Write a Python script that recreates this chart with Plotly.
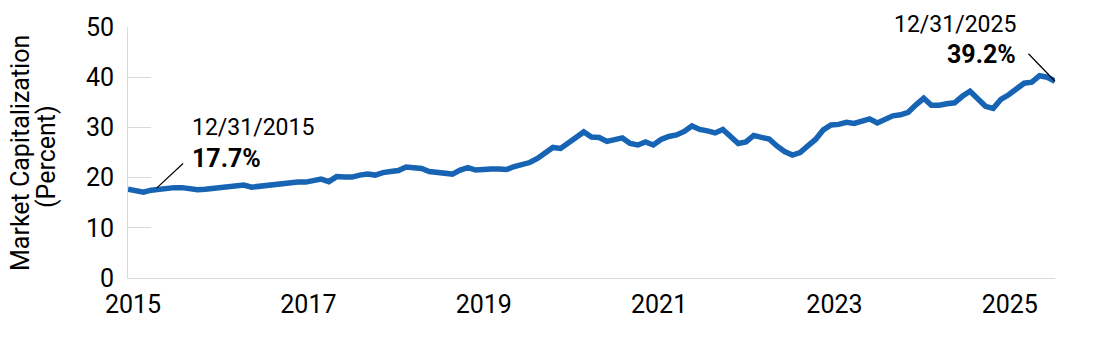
import plotly.graph_objects as go

# Monthly observations, 12/31/2015 .. 12/31/2025 (percent of market capitalization)
values = [
    17.7, 17.3, 17.1, 17.5, 17.7, 17.9, 18.0, 18.0, 17.8, 17.6,
    17.7, 17.9, 18.0, 18.1, 18.3, 18.5, 18.1, 18.3, 18.4, 18.5,
    18.8, 19.0, 19.1, 19.1, 19.3, 19.7, 19.2, 20.2, 20.1, 20.1,
    20.5, 20.7, 20.5, 21.0, 21.2, 21.4, 22.1, 22.0, 21.8, 21.2,
    21.1, 21.0, 20.7, 21.5, 22.0, 21.5, 21.7, 21.7, 21.7, 21.6,
    22.2, 22.6, 23.0, 23.8, 24.8, 26.0, 25.8, 26.8, 27.8, 29.1,
    28.1, 28.0, 27.2, 27.6, 27.9, 26.8, 26.5, 27.1, 26.5, 27.6,
    28.2, 28.5, 29.2, 30.3, 29.6, 29.3, 28.9, 29.6, 28.1, 26.8,
    27.1, 28.4, 28.0, 27.7, 26.3, 25.2, 24.5, 25.0, 26.3, 27.6,
    29.5, 30.5, 30.6, 31.0, 30.8, 31.3, 31.7, 30.9, 31.5, 32.3,
    32.5, 33.0, 34.5, 35.8, 34.4, 34.4, 34.7, 34.9, 36.2, 37.2,
    35.7, 34.2, 33.8, 35.6, 36.5, 37.7, 38.8, 39.0, 40.3, 40.0,
    39.2,
]
month_index = list(range(len(values)))
tick_labels = ["2015", "2017", "2019", "2021", "2023", "2025"]
y_ticks = [0, 10, 20, 30, 40, 50]
y_title_lines = ["Market Capitalization", "(Percent)"]
start_label, start_value = "12/31/2015", "17.7%"
end_label, end_value = "12/31/2025", "39.2%"

FONT = "Roboto, Arial, sans-serif"
LINE_COLOR = "#1764B4"
AXIS_COLOR = "#D9D9D9"

fig = go.Figure()
fig.add_trace(go.Scatter(
    x=month_index, y=values, mode="lines",
    line=dict(color=LINE_COLOR, width=5.5),
    hoverinfo="skip", showlegend=False,
))

tick_pos = [0.65 + 22.7 * k for k in range(len(tick_labels))]

fig.update_layout(
    width=1100, height=341,
    margin=dict(l=128, r=45, t=27, b=63),
    paper_bgcolor="white", plot_bgcolor="white",
    font=dict(family=FONT, color="#000000", size=24),
    xaxis=dict(
        range=[0, len(values) - 1],
        tickmode="array", tickvals=tick_pos, ticktext=tick_labels,
        showgrid=False, zeroline=False,
        showline=True, linecolor=AXIS_COLOR, linewidth=1,
        ticks="", tickfont=dict(size=25, family=FONT),
        ticklabelstandoff=4,
    ),
    yaxis=dict(
        range=[0, 50],
        tickmode="array", tickvals=y_ticks,
        showgrid=False, zeroline=False,
        showline=True, linecolor=AXIS_COLOR, linewidth=1,
        ticks="inside", ticklen=23, tickcolor=AXIS_COLOR, tickwidth=1,
        tickfont=dict(size=25, family=FONT),
        ticklabelstandoff=8,
    ),
)

# y-axis title lines as rotated annotations
title_x = [20, 46]
title_y = [153, 157]
for txt, px, py in zip(y_title_lines, title_x, title_y):
    fig.add_annotation(
        text=txt, textangle=-90,
        xref="paper", yref="paper", x=(px - 128) / 927, y=(278 - py) / 251,
        showarrow=False, font=dict(size=25, family=FONT),
        xanchor="center", yanchor="middle",
    )

# start annotation leader line
fig.add_annotation(
    x=month_index[0] + 3.7, y=values[0] + 0.2, xref="x", yref="y",
    ax=28, ay=-26,
    text="", showarrow=True, arrowhead=0, arrowwidth=1.2, arrowcolor="#000000",
)
fig.add_annotation(
    x=(190 - 128) / 927, y=(278 - 127) / 251, xref="paper", yref="paper",
    text=start_label, showarrow=False, xanchor="left", yanchor="middle",
    font=dict(size=23, family=FONT),
)
fig.add_annotation(
    x=(190 - 128) / 927, y=(278 - 158) / 251, xref="paper", yref="paper",
    text="<b>" + start_value + "</b>", showarrow=False, xanchor="left", yanchor="middle",
    font=dict(size=25, family=FONT),
)

# end annotation leader line
fig.add_annotation(
    x=month_index[-1], y=values[-1], xref="x", yref="y",
    ax=-28, ay=-29,
    text="", showarrow=True, arrowhead=0, arrowwidth=1.2, arrowcolor="#000000",
)
fig.add_annotation(
    x=(1018 - 128) / 927, y=(278 - 24) / 251, xref="paper", yref="paper",
    text=end_label, showarrow=False, xanchor="right", yanchor="middle",
    font=dict(size=23, family=FONT),
)
fig.add_annotation(
    x=(1018 - 128) / 927, y=(278 - 54) / 251, xref="paper", yref="paper",
    text="<b>" + end_value + "</b>", showarrow=False, xanchor="right", yanchor="middle",
    font=dict(size=25, family=FONT),
)

fig.write_html("out.html")
